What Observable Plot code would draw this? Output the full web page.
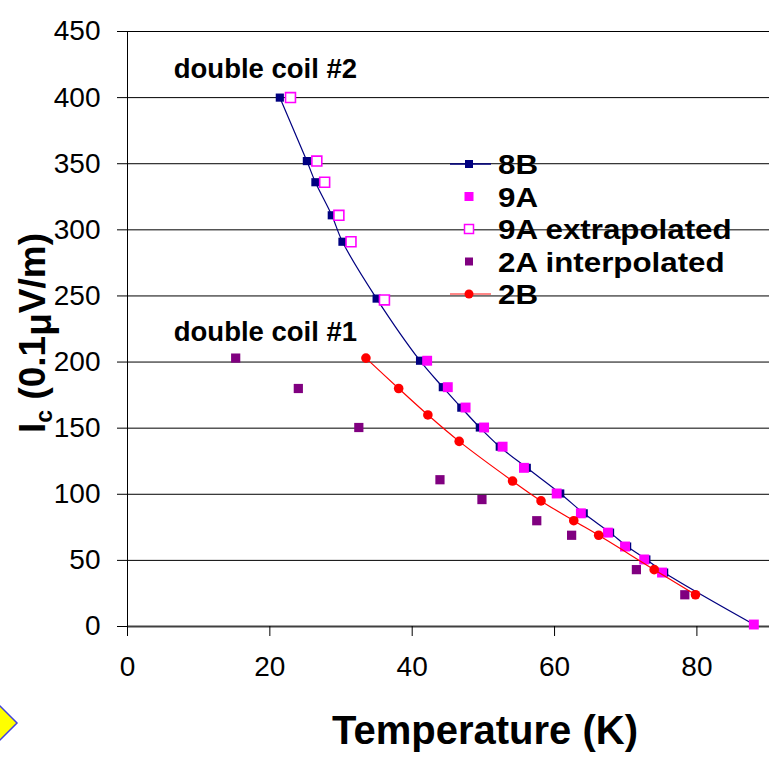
<!DOCTYPE html>
<html><head><meta charset="utf-8">
<script src="https://cdn.jsdelivr.net/npm/d3@7"></script>
<script src="https://cdn.jsdelivr.net/npm/@observablehq/plot@0.6"></script>
<style>
body{margin:0;background:#fff;}
#wrap{position:relative;width:769px;height:757px;overflow:hidden;background:#fff;}
#wrap svg{display:block;}
</style></head><body><div id="wrap"></div>
<script>
// ---- data ----
const t8B   = [21.4,25.2,26.4,28.7,30.2,35.0,41.1,44.3,46.9,49.5,52.3,56.1,60.8,64.1,67.8,70.2,72.9,75.4,88.0];
const ic8B  = [400,352,336,311,291,248,201,181,165.5,150.5,136,120,100.6,85.6,71,60.5,50.7,40.8,1.5];
const t9A   = [42.1,45.0,47.5,50.1,52.7,55.7,60.3,63.7,67.5,69.9,72.6,75.1,88.0];
const ic9A  = [201,181,165.6,150.5,136,120,100.6,85.6,71,60.5,50.7,40.8,1.5];
const t9AExt  = [22.9,26.6,27.7,29.7,31.4,36.1];
const ic9AExt = [400,352,336,311,291,247];
const t2A   = [15.2,24.0,32.5,43.9,49.8,57.5,62.4,71.5,78.3];
const ic2A  = [203,180,150.5,111,96,80,69,43,24];
const t2B   = [33.5,38.1,42.2,46.6,54.1,58.1,62.7,66.2,74.0,79.8];
const ic2B  = [203,180,160,140,110,95,80,69,43,24];
const xTicks = [0,20,40,60,80];
const yTicks = [0,50,100,150,200,250,300,350,400,450];
const seriesNames = ["8B","9A","9A extrapolated","2A interpolated","2B"];
const noteText = ["double coil #2","double coil #1"];
const noteT    = [6.5,6.5];
const noteIc   = [415,216];

const zip = (t, v) => t.map((d, i) => ({t: d, ic: v[i]}));
const d8B = zip(t8B, ic8B), d9A = zip(t9A, ic9A), d9AExt = zip(t9AExt, ic9AExt),
      d2A = zip(t2A, ic2A), d2B = zip(t2B, ic2B);
const notes = noteText.map((s, i) => ({s, t: noteT[i], ic: noteIc[i]}));

const FONT = "'Liberation Sans', Arial, Helvetica, sans-serif";
const C8B = "#000080", C9A = "#ff00ff", C2A = "#800080", C2B = "#ff0000";

const chart = Plot.plot({
  width: 769, height: 757,
  marginLeft: 127, marginRight: 0, marginTop: 31, marginBottom: 131,
  x: {domain: [0, 90.2], label: null},
  y: {domain: [0, 450], label: null},
  style: {fontFamily: FONT, fontSize: "28px", color: "#000", background: "#fff", overflow: "visible"},
  marks: [
    Plot.ruleY(yTicks.slice(1), {stroke: "#000", strokeWidth: 1}),
    Plot.ruleY([0], {stroke: "#404040", strokeWidth: 2}),
    Plot.ruleX([0], {y1: 0, y2: 450, stroke: "#000", strokeWidth: 1}),
    Plot.axisX({ticks: xTicks, tickSize: 10, tickPadding: 20, fontSize: 28, label: null, stroke: "#000"}),
    Plot.axisY({ticks: yTicks, tickSize: 10, tickPadding: 17, fontSize: 28, label: null, stroke: "#000"}),
    Plot.line(d8B, {x: "t", y: "ic", stroke: C8B, strokeWidth: 1.2, curve: "catmull-rom"}),
    Plot.dot(d8B, {x: "t", y: "ic", symbol: "square", fill: C8B, r: 4.6}),
    Plot.dot(d9A, {x: "t", y: "ic", symbol: "square", fill: C9A, r: 5.6}),
    Plot.dot(d9AExt, {x: "t", y: "ic", symbol: "square", fill: "#fff", stroke: C9A, strokeWidth: 1.6, r: 5.6}),
    Plot.dot(d2A, {x: "t", y: "ic", symbol: "square", fill: C2A, r: 5.2}),
    Plot.line(d2B, {x: "t", y: "ic", stroke: C2B, strokeWidth: 1.2, curve: "catmull-rom"}),
    Plot.dot(d2B, {x: "t", y: "ic", fill: C2B, r: 4.8}),
    Plot.text(notes, {x: "t", y: "ic", text: "s", textAnchor: "start", lineAnchor: "bottom",
      fontSize: 27.5, fontWeight: "bold", fill: "#000"})
  ]
});
document.getElementById("wrap").appendChild(chart);

const svg = d3.select(chart);
// axis titles
const yl = svg.append("text")
  .attr("transform", "translate(45,333) rotate(-90)")
  .attr("text-anchor", "middle")
  .attr("font-family", FONT).attr("font-weight", "bold").attr("font-size", 37).attr("fill", "#000");
yl.append("tspan").text("I");
yl.append("tspan").attr("font-size", 23).attr("dy", 7).text("c");
yl.append("tspan").attr("dy", -7).text(" (0.1");
yl.append("tspan").attr("dy", 6).text("\u03bc");
yl.append("tspan").attr("dy", -6).text("V/m)");

svg.append("text")
  .attr("x", 485).attr("y", 744).attr("text-anchor", "middle")
  .attr("font-family", FONT).attr("font-weight", "bold").attr("font-size", 40).attr("fill", "#000")
  .text("Temperature (K)");

// legend
const lg = svg.append("g").attr("font-family", FONT).attr("font-weight", "bold").attr("font-size", 27)
  .attr("text-anchor", "start");
const legendStyle = [
  {line: C8B, sym: "sq", fill: C8B, stroke: "none", s: 8},
  {line: null, sym: "sq", fill: C9A, stroke: "none", s: 9},
  {line: null, sym: "sq", fill: "#fff", stroke: C9A, s: 9},
  {line: null, sym: "sq", fill: C2A, stroke: "none", s: 8},
  {line: "#ff6060", sym: "ci", fill: C2B, stroke: "none", s: 9}
];
seriesNames.forEach((name, i) => {
  const cy = 164 + i * 32.5, cx = 469;
  const st = legendStyle[i];
  const g = lg.append("g");
  if (st.line) g.append("line").attr("x1", 450).attr("x2", 491).attr("y1", cy).attr("y2", cy)
    .attr("stroke", st.line).attr("stroke-width", 1.5);
  if (st.sym === "sq") g.append("rect").attr("x", cx - st.s / 2).attr("y", cy - st.s / 2)
    .attr("width", st.s).attr("height", st.s).attr("fill", st.fill)
    .attr("stroke", st.stroke).attr("stroke-width", 1.5);
  else g.append("circle").attr("cx", cx).attr("cy", cy).attr("r", st.s / 2).attr("fill", st.fill);
  g.append("text").attr("transform", `translate(498,${cy + 10}) scale(1.16,1)`)
    .attr("text-anchor", "start").attr("fill", "#000").text(name);
});

// decorative yellow arrow at bottom-left
svg.append("polygon").attr("points", "-2,704 17,723 -2,742")
  .attr("fill", "#ffff00").attr("stroke", "#4040e0").attr("stroke-width", 1.5);
</script>
</body></html>
